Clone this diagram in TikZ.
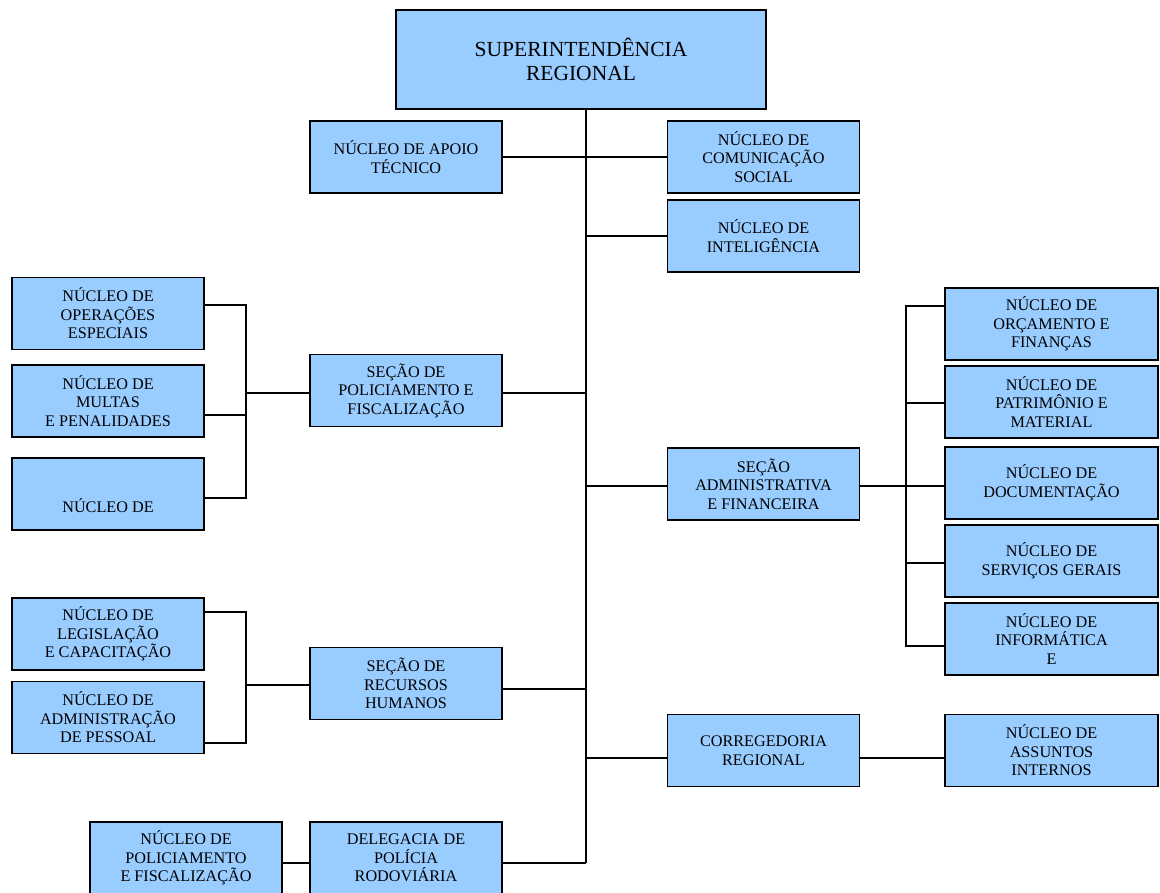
\documentclass[tikz,border=0pt]{standalone}
\usepackage{fontspec}
\setmainfont{Liberation Serif}
\definecolor{unitblue}{HTML}{99CCFF}
\tikzset{
  unit/.style={draw, fill=unitblue, line width=1.7pt, minimum width=192pt, minimum height=72pt,
    inner sep=2pt, align=center, font=\fontsize{16.2}{18.5}\selectfont},
  wideunit/.style={unit, minimum width=213pt},
  link/.style={line width=1.6pt}
}

\begin{document}
\begin{tikzpicture}[x=1pt, y=-1pt]
        \useasboundingbox (0,0) rectangle (1160,893);

        \node[unit, minimum width=370pt, minimum height=99pt, font=\fontsize{21.5}{24}\selectfont] (sup) at (581, 59.5) {SUPERINTENDÊNCIA\\REGIONAL};
        \coordinate (trunk) at (586, 109);
        \coordinate (trunkend) at (586, 863);
        \draw[link] (trunk) to (trunkend);

        \node[unit] (apoio) at (406, 157) {NÚCLEO DE APOIO\\TÉCNICO};
        \node[unit] (com) at (763.5, 157) {NÚCLEO DE\\COMUNICAÇÃO\\SOCIAL};
        \node[unit] (intel) at (763.5, 236) {NÚCLEO DE\\INTELIGÊNCIA};
        \draw[link] (apoio.east) to (com.west);
        \draw[link] (intel.west) to (intel.west -| trunk);

        % policiamento
        \node[unit] (ope) at (108, 313.5) {NÚCLEO DE\\OPERAÇÕES\\ESPECIAIS};
        \node[unit] (mul) at (108, 401) {NÚCLEO DE\\MULTAS\\E PENALIDADES};
        \node[unit] (nuc) at (108, 494) {\mbox{}\\\mbox{}\\NÚCLEO DE};
        \node[unit] (pol) at (406, 390.5) {SEÇÃO DE\\POLICIAMENTO E\\FISCALIZAÇÃO};
        \coordinate (polbr) at (246, 393);
        \draw[link] ([yshift=8.5pt]ope.east) -| (polbr) |- ([yshift=-4pt]nuc.east);
        \draw[link] ([yshift=-14pt]mul.east) -| (polbr);
        \draw[link] (polbr) to (polbr -| pol.west);
        \draw[link] ([yshift=-2.5pt]pol.east) to ([yshift=-2.5pt]pol.east -| trunk);

        % recursos humanos
        \node[unit] (leg) at (108, 634) {NÚCLEO DE\\LEGISLAÇÃO\\E CAPACITAÇÃO};
        \node[unit] (pes) at (108, 717.5) {NÚCLEO DE\\ADMINISTRAÇÃO\\DE PESSOAL};
        \node[unit] (rh) at (406, 683.5) {SEÇÃO DE\\RECURSOS\\HUMANOS};
        \coordinate (rhbr) at (246, 685);
        \draw[link] ([yshift=22pt]leg.east) -| (rhbr) |- ([yshift=-25.5pt]pes.east);
        \draw[link] (rhbr) to (rhbr -| rh.west);
        \draw[link] ([yshift=-5.5pt]rh.east) to ([yshift=-5.5pt]rh.east -| trunk);

        % delegacia
        \node[unit] (polfis) at (186, 858) {NÚCLEO DE\\POLICIAMENTO\\E FISCALIZAÇÃO};
        \node[unit] (dele) at (406, 858) {DELEGACIA DE\\POLÍCIA\\RODOVIÁRIA};
        \draw[link] ([yshift=-5pt]polfis.east) to ([yshift=-5pt]dele.west);
        \draw[link] ([yshift=-5pt]dele.east) to (trunkend);

        % administrativa
        \node[unit] (adm) at (763.5, 484) {SEÇÃO\\ADMINISTRATIVA\\E FINANCEIRA};
        \node[wideunit] (orc) at (1051.5, 324) {NÚCLEO DE\\ORÇAMENTO E\\FINANÇAS};
        \node[wideunit] (pat) at (1051.5, 402) {NÚCLEO DE\\PATRIMÔNIO E\\MATERIAL};
        \node[wideunit] (doc) at (1051.5, 483) {NÚCLEO DE\\DOCUMENTAÇÃO};
        \node[wideunit] (ser) at (1051.5, 561) {NÚCLEO DE\\SERVIÇOS GERAIS};
        \node[wideunit] (inf) at (1051.5, 639) {NÚCLEO DE\\INFORMÁTICA\\E};
        \coordinate (admbr) at (906, 486);
        \draw[link] ([yshift=-2pt]adm.west) to ([yshift=-2pt]adm.west -| trunk);
        \draw[link] (adm.east |- admbr) to (admbr);
        \draw[link] ([yshift=18pt]orc.west) -| (admbr) |- ([yshift=-7pt]inf.west);
        \draw[link] ([yshift=-1pt]pat.west) -| (admbr);
        \draw[link] (admbr) to (admbr -| doc.west);
        \draw[link] ([yshift=-2pt]ser.west) -| (admbr);

        % corregedoria
        \node[unit] (corr) at (763.5, 750.5) {CORREGEDORIA\\REGIONAL};
        \node[wideunit] (ass) at (1051.5, 750.5) {NÚCLEO DE\\ASSUNTOS\\INTERNOS};
        \draw[link] ([yshift=-7.5pt]corr.west) to ([yshift=-7.5pt]corr.west -| trunk);
        \draw[link] ([yshift=-7.5pt]corr.east) to ([yshift=-7.5pt]ass.west);
      \end{tikzpicture}
\end{document}
